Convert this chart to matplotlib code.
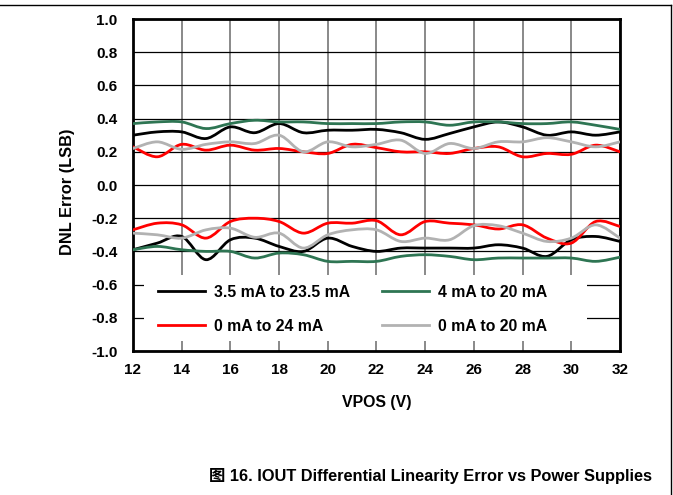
import numpy as np
import matplotlib
matplotlib.use("Agg")
import matplotlib.pyplot as plt
from matplotlib.path import Path
from matplotlib.patches import PathPatch, Rectangle
from matplotlib.lines import Line2D

plt.rcParams['font.family'] = ['Liberation Sans', 'Noto Sans CJK SC', 'DejaVu Sans']
plt.rcParams['font.weight'] = 'bold'

vpos = [12, 13, 14, 15, 16, 17, 18, 19, 20, 21, 22, 23, 24, 25, 26, 27, 28, 29, 30, 31, 32]
y_ticks = [-1.0, -0.8, -0.6, -0.4, -0.2, 0.0, 0.2, 0.4, 0.6, 0.8, 1.0]

# each range gives two traces (positive and negative DNL)
black_hi = [0.30, 0.32, 0.32, 0.28, 0.35, 0.315, 0.37, 0.315, 0.33, 0.33, 0.335,
            0.315, 0.275, 0.31, 0.35, 0.38, 0.35, 0.30, 0.32, 0.30, 0.32]
black_lo = [-0.39, -0.35, -0.31, -0.45, -0.33, -0.32, -0.37, -0.40, -0.32, -0.37, -0.40,
            -0.38, -0.38, -0.38, -0.38, -0.36, -0.38, -0.43, -0.33, -0.31, -0.34]
green_hi = [0.37, 0.38, 0.38, 0.34, 0.37, 0.39, 0.38, 0.38, 0.37, 0.37, 0.37,
            0.38, 0.38, 0.36, 0.38, 0.38, 0.37, 0.37, 0.38, 0.36, 0.335]
green_lo = [-0.39, -0.37, -0.39, -0.40, -0.40, -0.44, -0.41, -0.42, -0.46, -0.46, -0.46,
            -0.43, -0.42, -0.43, -0.45, -0.44, -0.44, -0.44, -0.44, -0.46, -0.435]
red_hi = [0.23, 0.17, 0.245, 0.21, 0.24, 0.21, 0.22, 0.20, 0.19, 0.245, 0.225,
          0.20, 0.20, 0.19, 0.22, 0.23, 0.17, 0.19, 0.185, 0.24, 0.20]
red_lo = [-0.27, -0.23, -0.24, -0.32, -0.22, -0.20, -0.22, -0.29, -0.23, -0.23, -0.215,
          -0.30, -0.22, -0.23, -0.24, -0.265, -0.24, -0.32, -0.35, -0.22, -0.25]
gray_hi = [0.22, 0.26, 0.215, 0.245, 0.26, 0.25, 0.30, 0.20, 0.26, 0.23, 0.245,
           0.27, 0.19, 0.25, 0.22, 0.26, 0.26, 0.285, 0.26, 0.23, 0.26]
gray_lo = [-0.29, -0.30, -0.32, -0.27, -0.26, -0.315, -0.29, -0.38, -0.30, -0.27, -0.27,
           -0.34, -0.32, -0.33, -0.245, -0.245, -0.29, -0.34, -0.32, -0.24, -0.32]

labels = ["3.5 mA to 23.5 mA", "4 mA to 20 mA", "0 mA to 24 mA", "0 mA to 20 mA"]
colors = ["#000000", "#2E7553", "#FF0000", "#B2B2B2"]
series = [(black_hi, black_lo), (green_hi, green_lo), (red_hi, red_lo), (gray_hi, gray_lo)]


def smooth_path(x, y):
    # smoothed line like the spreadsheet, via bezier segments through the points
    p = np.column_stack([x, y]).astype(float)
    ext = np.vstack([p[0], p, p[-1]])
    verts = [p[0]]
    codes = [Path.MOVETO]
    for i in range(len(p) - 1):
        p0, p1, p2, p3 = ext[i], ext[i + 1], ext[i + 2], ext[i + 3]
        verts += [p1 + (p2 - p0) / 6, p2 - (p3 - p1) / 6, p2]
        codes += [Path.CURVE4] * 3
    return Path(verts, codes)


fig = plt.figure(figsize=(6.73, 4.95), dpi=100)
ax = fig.add_axes([0.1976, 0.2909, 0.7236, 0.6707])

ax.set_xlim(12, 32)
ax.set_ylim(-1.0, 1.0)
ax.set_xticks(vpos[::2])
ax.set_yticks(y_ticks)
ax.set_yticklabels([f"{v:.1f}" for v in y_ticks])
ax.tick_params(length=0, labelsize=11)
ax.tick_params(axis='y', pad=11)
ax.tick_params(axis='x', pad=8.5)
ax.grid(axis='y', color='black', lw=0.9)
ax.grid(axis='x', color='#808080', lw=1.3)
ax.set_axisbelow(True)
for s in ax.spines.values():
    s.set_linewidth(2)

for (hi, lo), c in zip(series, colors):
    for ys in (hi, lo):
        ax.add_patch(PathPatch(smooth_path(vpos, ys), fill=False, ec=c, lw=2,
                               capstyle='round', joinstyle='round', zorder=3))

# white box behind the legend hides the grid
ax.add_patch(Rectangle((0.0226, 0.03), 0.9097, 0.199, transform=ax.transAxes,
                       fc='white', ec='none', zorder=2))
# legend fills column by column, so reorder to get black/green on the first row
order = [0, 2, 1, 3]
handles = [Line2D([], [], color=colors[i], lw=2) for i in order]
ax.legend(handles, [labels[i] for i in order], ncol=2, loc='upper left',
          bbox_to_anchor=(0.0513, 0.2), frameon=False, fontsize=11.3,
          handlelength=3.0, handletextpad=0.57, columnspacing=2.04,
          labelspacing=1.23, borderpad=0, borderaxespad=0)

ax.set_xlabel("VPOS (V)", fontsize=11.4, fontweight='bold')
ax.xaxis.set_label_coords(0.5, -0.1325)
ax.set_ylabel("DNL Error (LSB)", fontsize=11.8, fontweight='bold')
ax.yaxis.set_label_coords(-0.119, 0.479)

fig.text(0.969, 0.038, "图 16. IOUT Differential Linearity Error vs Power Supplies",
         ha='right', va='center', fontsize=11.8, fontweight='bold')

# page frame lines
fig.add_artist(Line2D([0, 671 / 673], [1 - 5 / 495, 1 - 5 / 495], color='black', lw=1,
                      transform=fig.transFigure))
fig.add_artist(Line2D([671 / 673, 671 / 673], [1 - 5 / 495, 0], color='black', lw=1,
                      transform=fig.transFigure))

fig.savefig("out.png", dpi=100)
